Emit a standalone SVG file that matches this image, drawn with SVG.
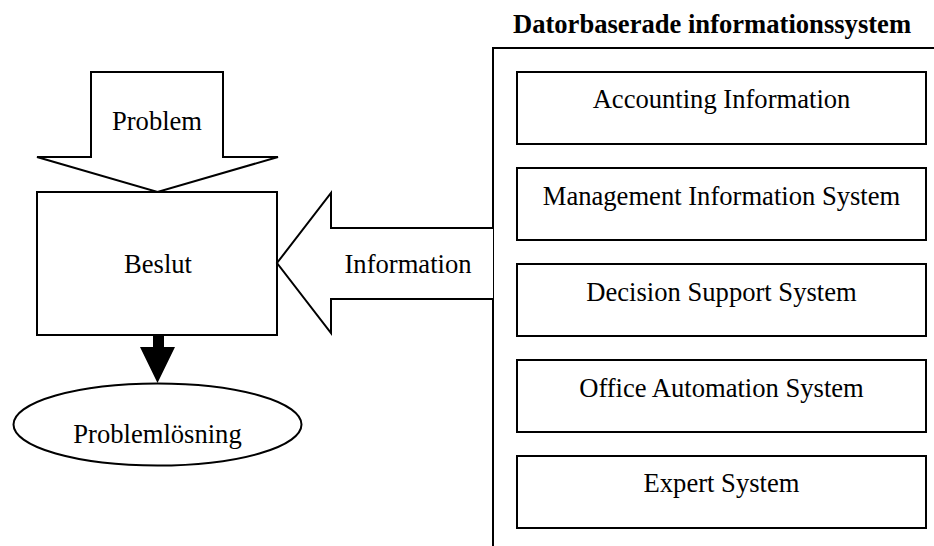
<svg xmlns="http://www.w3.org/2000/svg" width="934" height="546" viewBox="0 0 934 546">
  <style>
    .shape { fill: #fff; stroke: #000; stroke-width: 2; }
    .line { fill: none; stroke: #000; stroke-width: 2; }
    .label { font-family: "Liberation Serif", "Times New Roman", serif; font-size: 26.6px; fill: #000; text-anchor: middle; }
    .title { font-weight: bold; }
  </style>
  <rect width="934" height="546" fill="#fff"/>

  <!-- Problem arrow pointing down into the decision box -->
  <g id="problem">
    <path class="shape" d="M91,72 H223 V157 H278 L157.5,192 L37,157 H91 Z"/>
    <text class="label" x="157" y="130">Problem</text>
  </g>

  <!-- Decision box -->
  <g id="beslut">
    <rect class="shape" x="37" y="192" width="240" height="143"/>
    <text class="label" x="158" y="273">Beslut</text>
  </g>

  <!-- Outcome -->
  <g id="problemlosning">
    <ellipse class="shape" cx="157.5" cy="424.5" rx="144" ry="41"/>
    <text class="label" x="157.5" y="443">Problemlösning</text>
  </g>

  <!-- Information systems panel -->
  <g id="informationssystem">
    <text class="label title" x="712" y="33">Datorbaserade informationssystem</text>
    <path class="line" d="M493,546 V48 H934"/>
  </g>

  <g id="ais">
    <rect class="shape" x="517" y="72" width="409" height="72"/>
    <text class="label" x="721.5" y="108">Accounting Information</text>
  </g>
  <g id="mis">
    <rect class="shape" x="517" y="168" width="409" height="72"/>
    <text class="label" x="721.5" y="205">Management Information System</text>
  </g>
  <g id="dss">
    <rect class="shape" x="517" y="264" width="409" height="72"/>
    <text class="label" x="721.5" y="301">Decision Support System</text>
  </g>
  <g id="oas">
    <rect class="shape" x="517" y="360" width="409" height="72"/>
    <text class="label" x="721.5" y="397">Office Automation System</text>
  </g>
  <g id="es">
    <rect class="shape" x="517" y="456" width="409" height="72"/>
    <text class="label" x="721.5" y="492">Expert System</text>
  </g>

  <!-- Connectors -->
  <g id="connectors">
    <!-- Information flow from the systems to the decision -->
    <path class="shape" d="M493,228 H331 V193 L277,263 L331,333 V299 H493"/>
    <text class="label" x="408" y="273">Information</text>
    <!-- Decision leads to problem solving -->
    <path d="M153,335 H164 V347 H175 L157.5,383 L140,347 H153 Z" fill="#000"/>
  </g>
</svg>
